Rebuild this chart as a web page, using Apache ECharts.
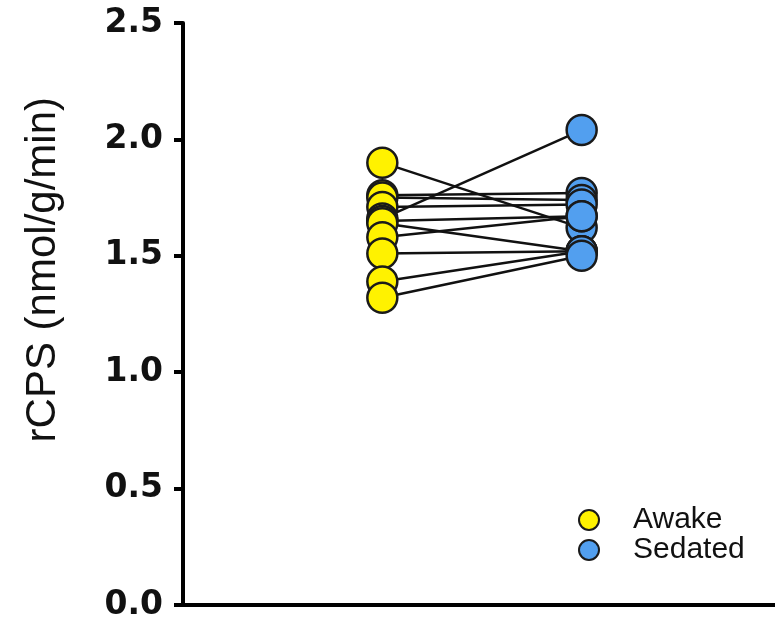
<!DOCTYPE html>
<html>
<head>
<meta charset="utf-8">
<script src="https://cdn.jsdelivr.net/npm/echarts@6/dist/echarts.min.js"></script>
<style>
  html, body { margin: 0; padding: 0; background: #fff; }
  #chart { width: 775px; height: 629px; }
</style>
</head>
<body>
<div id="chart"></div>
<script>
// paired measurements, one entry per subject
const awake   = [1.90, 1.76, 1.75, 1.71, 1.66, 1.65, 1.64, 1.58, 1.51, 1.39, 1.32]
const sedated = [1.62, 1.77, 1.74, 1.72, 2.04, 1.67, 1.52, 1.67, 1.52, 1.52, 1.50]
const groupX = { Awake: 1, Sedated: 2 }
const yTicks = [0, 0.5, 1.0, 1.5, 2.0, 2.5]

const chart = echarts.init(document.getElementById('chart'))

const pairLines = awake.map((a, i) => ({
  type: 'line',
  data: [[groupX.Awake, a], [groupX.Sedated, sedated[i]]],
  symbol: 'none',
  silent: true,
  z: 2,
  lineStyle: { color: '#111', width: 2.5 }
}))

const option = {
  animation: false,
  grid: { left: 183, right: 0, top: 23, bottom: 24 },
  legend: {
    data: ['Awake', 'Sedated'],
    orient: 'vertical',
    left: 578,
    top: 505,
    padding: 0,
    itemWidth: 20,
    itemHeight: 20,
    itemGap: 0,
    icon: 'circle',
    itemStyle: { borderColor: '#1a1a1a', borderWidth: 2 },
    textStyle: { fontFamily: 'Liberation Sans', fontSize: 30, color: '#111', padding: [0, 0, 0, 29] }
  },
  graphic: [{
    type: 'text',
    left: 22,
    top: 97,
    rotation: Math.PI / 2,
    style: {
      text: 'rCPS (nmol/g/min)',
      font: '42px "Liberation Sans"',
      fill: '#111'
    }
  }],
  xAxis: {
    type: 'value',
    min: 0,
    max: 2.97,
    axisLine: { show: true, lineStyle: { color: '#000', width: 4 } },
    axisTick: { show: false },
    axisLabel: { show: false },
    splitLine: { show: false }
  },
  yAxis: {
    type: 'value',
    min: 0,
    max: 2.5,
    interval: 0.5,
    axisLine: { show: true, lineStyle: { color: '#000', width: 4 } },
    axisTick: { show: true, length: 9, lineStyle: { color: '#000', width: 4 } },
    axisLabel: {
      margin: 20,
      fontFamily: 'DejaVu Sans',
      fontWeight: 'bold',
      fontSize: 33,
      color: '#111',
      formatter: v => yTicks.includes(v) ? v.toFixed(1) : ''
    },
    splitLine: { show: false }
  },
  series: [
    ...pairLines,
    {
      name: 'Awake',
      type: 'scatter',
      z: 5,
      symbolSize: 30,
      data: awake.map(v => [groupX.Awake, v]),
      itemStyle: { color: '#FFF200', opacity: 1, borderColor: '#1a1a1a', borderWidth: 2.5 }
    },
    {
      name: 'Sedated',
      type: 'scatter',
      z: 5,
      symbolSize: 30,
      data: sedated.map(v => [groupX.Sedated, v]),
      itemStyle: { color: '#529FEF', opacity: 1, borderColor: '#1a1a1a', borderWidth: 2.5 }
    }
  ]
}

chart.setOption(option)
</script>
</body>
</html>
